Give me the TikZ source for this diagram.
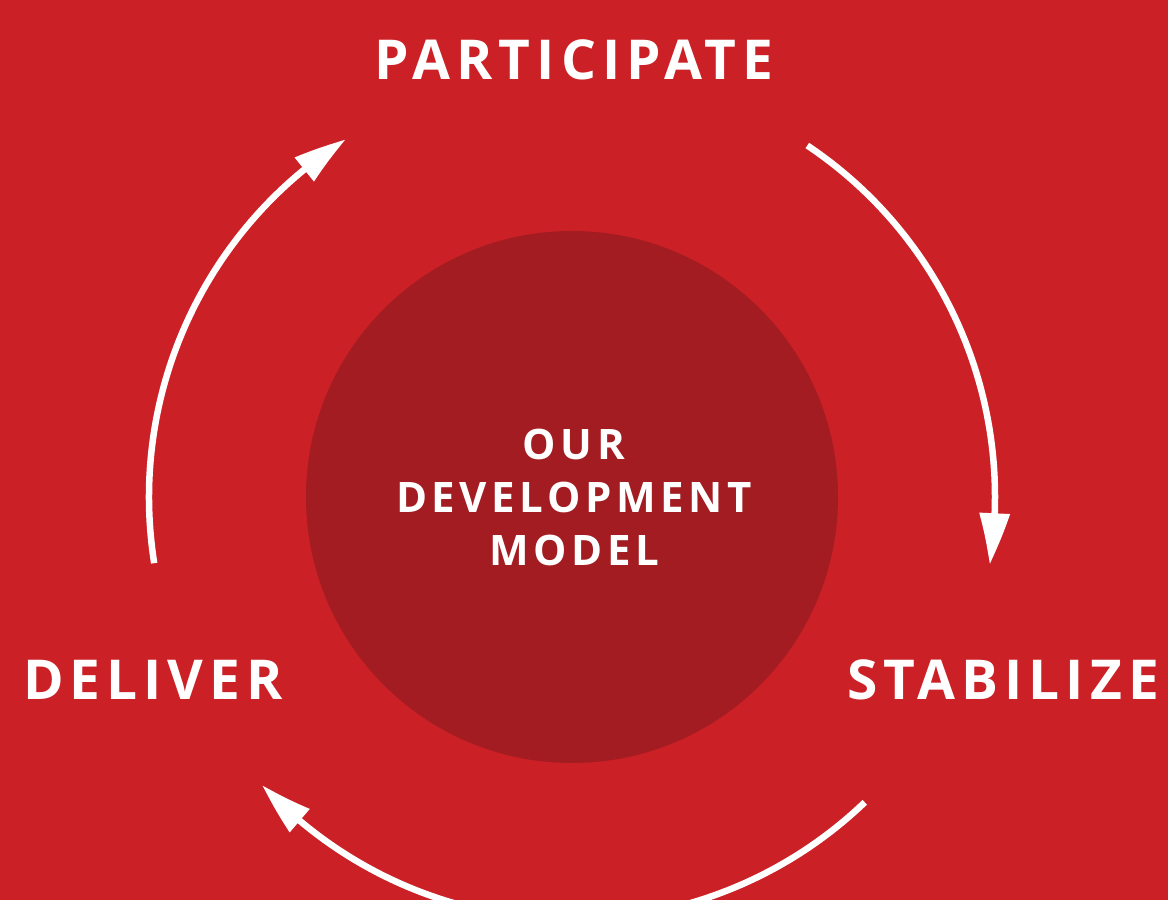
\documentclass[tikz,border=0pt]{standalone}
\usepackage{fontspec}
\setmainfont{Open Sans}
\newfontfamily\bigfont[LetterSpace=11]{Open Sans}
\newfontfamily\midfont[LetterSpace=11]{Open Sans}
\usetikzlibrary{arrows.meta,bending,calc}
\definecolor{bgred}{RGB}{204,32,39}
\definecolor{darkred}{RGB}{162,28,33}
\tikzset{
  cyclearrow/.style={draw=white,line width=6.5pt,-{Triangle[length=52pt,width=29pt,bend]}},
  stagelabel/.style={text=white,inner sep=0pt,anchor=base,font=\bigfont\bfseries\fontsize{55}{55}\selectfont},
  centerlabel/.style={text=white,inner sep=0pt,anchor=base,align=center,font=\midfont\bfseries\fontsize{42}{53}\selectfont}
}
\begin{document}
\begin{tikzpicture}[x=1pt,y=1pt]
\fill[bgred] (0,0) rectangle (1168,900);
\useasboundingbox (0,0) rectangle (1168,900);
\coordinate (c) at (572,403);
\fill[darkred] (c) circle[radius=266];
\node[centerlabel] (model) at (574,334) {OUR\\DEVELOPMENT\\MODEL};
\node[stagelabel] (participate) at (574,820) {PARTICIPATE};
\node[stagelabel] (deliver) at (153,200) {DELIVER};
\node[stagelabel] (stabilize) at (1003,200) {STABILIZE};
\coordinate (s1) at ($(c)+(189:423)$);
\coordinate (s2) at ($(c)+(56.2:423)$);
\coordinate (s3) at ($(c)+(-46.2:423)$);
\draw[cyclearrow] (s1) arc[start angle=189,end angle=122.3,radius=423];
\draw[cyclearrow] (s2) arc[start angle=56.2,end angle=-9.2,radius=423];
\draw[cyclearrow] (s3) arc[start angle=-46.2,end angle=-137.1,radius=423];
\end{tikzpicture}
\end{document}
